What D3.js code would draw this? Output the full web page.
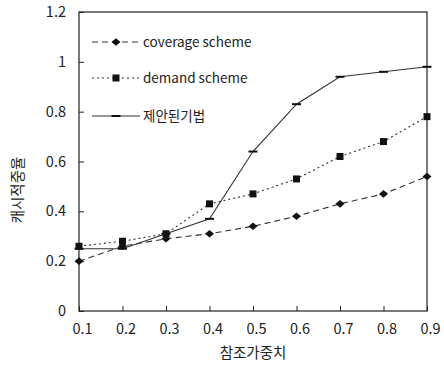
<!DOCTYPE html>
<html><head><meta charset="utf-8">
<script src="https://cdn.jsdelivr.net/npm/d3@7"></script>
<style>
html,body{margin:0;padding:0;background:#fff;}
svg{display:block;}
text{font-family:"Noto Sans CJK KR","Noto Sans",sans-serif;fill:#222;}
</style></head><body>
<svg id="c" width="444" height="368"></svg>
<script>
const xValues = [0.1,0.2,0.3,0.4,0.5,0.6,0.7,0.8,0.9];
const coverage = [0.20,0.26,0.29,0.31,0.34,0.38,0.43,0.47,0.54];
const demand   = [0.26,0.28,0.31,0.43,0.47,0.53,0.62,0.68,0.78];
const proposed = [0.25,0.25,0.31,0.37,0.64,0.83,0.94,0.96,0.98];
const seriesNames = ["coverage scheme","demand scheme","제안된기법"];
const yTicks = [0,0.2,0.4,0.6,0.8,1,1.2];
const yTickLabels = ["0","0.2","0.4","0.6","0.8","1","1.2"];
const xTickLabels = ["0.1","0.2","0.3","0.4","0.5","0.6","0.7","0.8","0.9"];
const xTitle = "참조가중치";
const yTitle = "캐시적중율";

const svg = d3.select("#c");
const L=79, R=427, T=12, B=311;
const x = d3.scaleLinear().domain([0.1,0.9]).range([L,R]);
const y = d3.scaleLinear().domain([0,1.2]).range([B,T]);

svg.append("rect").attr("x",L).attr("y",T).attr("width",R-L).attr("height",B-T)
  .attr("fill","none").attr("stroke","#222").attr("stroke-width",1.2);

const yAx = svg.append("g").attr("transform",`translate(${L},0)`)
  .call(d3.axisRight(y).tickValues(yTicks).tickSize(5).tickFormat((d,i)=>yTickLabels[i]));
yAx.select(".domain").remove();
yAx.selectAll("line").attr("stroke","#222");
yAx.selectAll("text").attr("x",-13).attr("text-anchor","end").attr("font-size",14.5).attr("fill","#333");

const xAx = svg.append("g").attr("transform",`translate(0,${B})`)
  .call(d3.axisTop(x).tickValues(xValues).tickSize(5).tickFormat((d,i)=>xTickLabels[i]));
xAx.select(".domain").remove();
xAx.selectAll("line").attr("stroke","#222");
xAx.selectAll("text").attr("y",23).attr("dy","0").attr("dx",3).attr("font-size",14.5).attr("fill","#333");

svg.append("text").attr("x",253).attr("y",358).attr("text-anchor","middle").attr("font-size",14.5).text(xTitle);
svg.append("text").attr("transform","translate(23,190) rotate(-90)").attr("text-anchor","middle").attr("font-size",14.5).text(yTitle);

const line = d3.line().x((d,i)=>x(xValues[i])).y(d=>y(d));
const data = [
  {vals:coverage, dash:"6,4", marker:"diamond"},
  {vals:demand, dash:"2,3", marker:"square"},
  {vals:proposed, dash:null, marker:"dash"}
];
function drawMarker(g, type, cx, cy){
  if(type==="diamond"){
    g.append("path").attr("d",`M${cx-4.5},${cy}L${cx},${cy-3.8}L${cx+4.5},${cy}L${cx},${cy+3.8}Z`).attr("fill","#111");
  } else if(type==="square"){
    g.append("rect").attr("x",cx-3.5).attr("y",cy-3.5).attr("width",7).attr("height",7).attr("fill","#111");
  } else {
    g.append("rect").attr("x",cx-4.5).attr("y",cy-1).attr("width",9).attr("height",2).attr("fill","#111");
  }
}
data.forEach(s=>{
  svg.append("path").attr("d",line(s.vals)).attr("fill","none").attr("stroke","#333").attr("stroke-width",1.1)
    .attr("stroke-dasharray",s.dash);
  const g = svg.append("g");
  s.vals.forEach((v,i)=>drawMarker(g,s.marker,x(xValues[i]),y(v)));
});

const legY=[42,78,116];
data.forEach((s,i)=>{
  svg.append("line").attr("x1",92).attr("x2",140).attr("y1",legY[i]).attr("y2",legY[i])
    .attr("stroke","#333").attr("stroke-width",1.1).attr("stroke-dasharray",s.dash);
  const g=svg.append("g"); drawMarker(g,s.marker,116,legY[i]);
  svg.append("text").attr("x",143).attr("y",legY[i]).attr("dy","0.35em").attr("font-size",13.5).text(seriesNames[i]);
});
</script></body></html>
